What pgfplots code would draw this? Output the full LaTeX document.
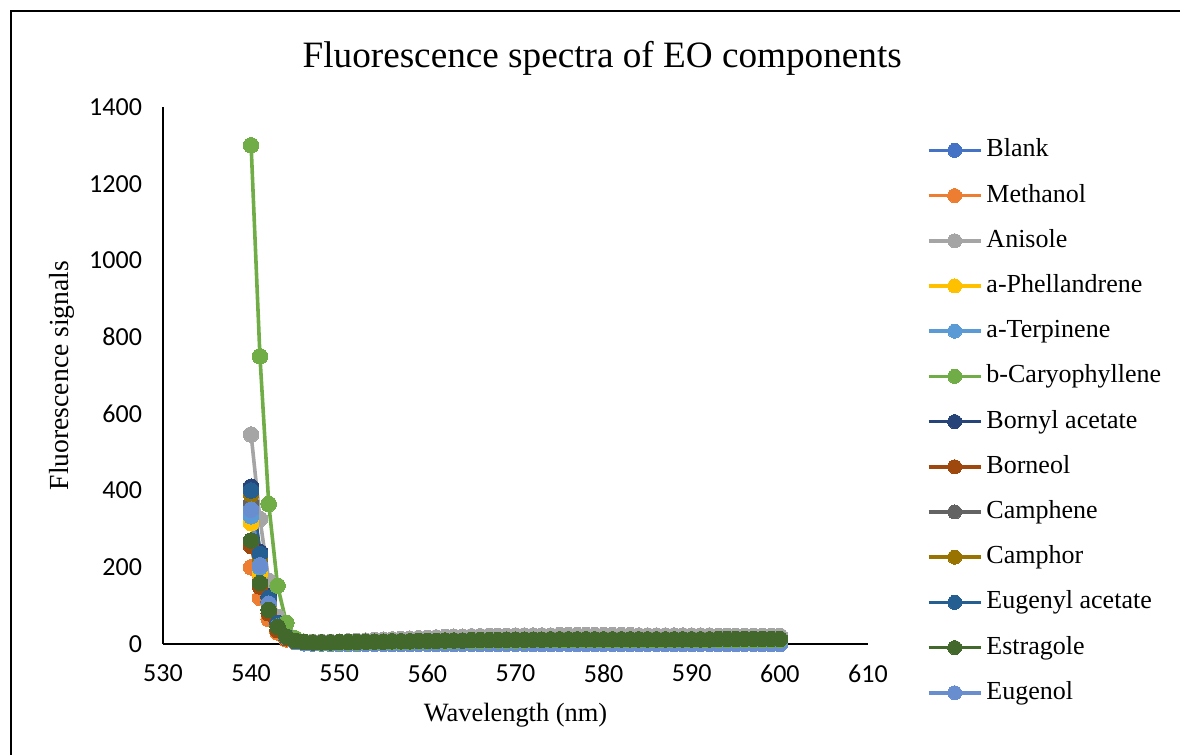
\documentclass[border=0pt]{standalone}
\usepackage{pgfplots}
\pgfplotsset{compat=1.18}
\usepackage{pgfplotstable}
\usepackage{fontspec}
\setmainfont{Liberation Serif}
\newfontfamily\calibri{Carlito}
\definecolor{cB}{HTML}{4472C4}
\definecolor{cM}{HTML}{ED7D31}
\definecolor{cA}{HTML}{A5A5A5}
\definecolor{cP}{HTML}{FFC000}
\definecolor{cT}{HTML}{5B9BD5}
\definecolor{cC}{HTML}{70AD47}
\definecolor{cBA}{HTML}{264478}
\definecolor{cBO}{HTML}{9E480E}
\definecolor{cCE}{HTML}{636363}
\definecolor{cCO}{HTML}{997300}
\definecolor{cEA}{HTML}{255E91}
\definecolor{cES}{HTML}{43682B}
\definecolor{cEU}{HTML}{698ED0}

\pgfplotstableread{
x B M A P T C BA BO CE CO EA ES EU
540 340 200 546 315 333 1300 410 255 365 390 400 270 350
541 195 120 326 185 200 750 240 150 215 225 235 159 205
542 100 65 165 100 110 365 125 80 110 118 120 89 105
543 45 30 70 45 48 152 55 36 50 52 54 45 46
544 18 12 28 18 18 55 22 15 20 20 21 19 18
545 6 5 12 7 6 15 8 6 8 8 8 8 6
546 2 3 6 3 2 6 3 3 4 3 3 5 2
547 1 2 5 2 1 4 2 2 3 2 2 4 1
548 1 2 5 2 1 3 2 2 3 2 2 4 1
549 0 2 5 2 0 3 2 2 3 2 2 4 0
550 0 2 6 2 0 4 2 2 3 2 2 5 0
551 0 2 7 2 0 4 2 2 3 2 2 5 0
552 0 2 8 3 0 4 3 2 3 3 2 5 0
553 0 3 9 3 0 5 3 3 4 3 3 6 0
554 0 3 10 3 0 5 3 3 4 3 3 6 0
555 0 3 11 3 0 5 3 3 4 3 3 6 0
556 0 3 12 3 0 6 3 3 4 3 3 7 0
557 0 3 13 4 0 6 4 3 4 4 3 7 0
558 0 3 14 4 0 6 4 3 5 4 3 7 0
559 0 4 15 4 0 7 4 4 5 4 4 8 0
560 0 4 16 4 0 7 4 4 5 4 4 8 0
561 0 4 17 4 0 7 4 4 5 4 4 8 0
562 0 4 18 4 0 7 4 4 5 4 4 9 0
563 0 4 19 5 0 8 5 4 5 5 4 9 0
564 0 4 19 5 0 8 5 4 6 5 4 9 0
565 0 4 20 5 0 8 5 4 6 5 4 10 0
566 0 5 20 5 0 8 5 5 6 5 5 10 0
567 0 5 21 5 0 9 5 5 6 5 5 10 0
568 0 5 21 5 0 9 5 5 6 5 5 10 0
569 0 5 21 5 0 9 5 5 6 5 5 11 0
570 0 5 22 5 0 9 5 5 6 5 5 11 0
571 0 5 22 5 0 9 5 5 6 5 5 11 0
572 0 5 22 6 0 10 6 5 7 6 5 11 0
573 0 5 22 6 0 10 6 5 7 6 5 11 0
574 0 5 22 6 0 10 6 5 7 6 5 12 0
575 0 5 23 6 0 10 6 5 7 6 5 12 0
576 0 5 23 6 0 10 6 5 7 6 5 12 0
577 0 5 23 6 0 10 6 5 7 6 5 12 0
578 0 5 23 6 0 10 6 5 7 6 5 12 0
579 0 5 23 6 0 10 6 5 7 6 5 12 0
580 0 5 23 6 0 10 6 5 7 6 5 12 0
581 0 5 23 6 0 10 6 5 7 6 5 12 0
582 0 5 23 6 0 10 6 5 7 6 5 12 0
583 0 5 23 6 0 10 6 5 7 6 5 12 0
584 0 5 22 6 0 10 6 5 7 6 5 12 0
585 0 5 22 6 0 10 6 5 7 6 5 12 0
586 0 5 22 6 0 10 6 5 7 6 5 12 0
587 0 5 22 6 0 10 6 5 7 6 5 12 0
588 0 5 22 6 0 10 6 5 7 6 5 12 0
589 0 5 22 6 0 10 6 5 7 6 5 12 0
590 0 5 22 6 0 10 6 5 7 6 5 12 0
591 0 5 22 6 0 10 6 5 7 6 5 12 0
592 0 5 22 6 0 10 6 5 7 6 5 12 0
593 0 5 21 6 0 11 6 5 7 6 5 13 0
594 0 5 21 6 0 11 6 5 7 6 5 13 0
595 0 5 21 6 0 11 6 5 7 6 5 13 0
596 0 5 21 6 0 11 6 5 7 6 5 13 0
597 0 5 21 6 0 11 6 5 7 6 5 13 0
598 0 5 21 6 0 11 6 5 7 6 5 13 0
599 0 5 21 6 0 11 6 5 7 6 5 13 0
600 0 5 21 6 0 11 6 5 7 6 5 13 0
}\data

\pgfplotsset{
  ser/.style={color=#1, line width=1.8pt, mark=*, mark size=3.9pt,
    mark options={solid, fill=#1, draw=#1, line width=0pt}},
  leg/.style={color=#1, line width=1.8pt, mark=*, mark size=3.5pt,
    mark options={solid, fill=#1, draw=#1, line width=0pt}},
}

\begin{document}
\begin{tikzpicture}
\useasboundingbox (0,0) rectangle (590pt,377.5pt);
\draw[line width=1pt] (5.5pt,0pt) -- (5.5pt,372pt) -- (590pt,372pt);
\begin{axis}[
  at={(81.5pt,55.5pt)}, anchor=south west,
  scale only axis, width=352.5pt, height=268.5pt,
  xmin=530, xmax=610, ymin=0, ymax=1400,
  xtick={530,540,...,610}, ytick={0,200,...,1400},
  axis lines*=left,
  axis line style={line width=0.8pt, black},
  major tick length=0pt,
  clip=false,
  /pgf/number format/assume math mode=true,
  /pgf/number format/1000 sep={},
  ticklabel style={font=\calibri\fontsize{13}{13}\selectfont},
  xticklabel style={yshift=-7pt},
  yticklabel style={xshift=-7pt},
  title={Fluorescence spectra of EO components},
  title style={at={(axis description cs:0.623,1.069)}, anchor=center, font=\fontsize{18.6}{18.6}\selectfont},
  xlabel={Wavelength (nm)},
  ylabel={Fluorescence signals},
  xlabel style={at={(axis description cs:0.5,-0.132)}, anchor=center, font=\fontsize{13.2}{13.2}\selectfont},
  ylabel style={at={(axis description cs:-0.1433,0.5)}, anchor=center, font=\fontsize{13.8}{13.8}\selectfont},
  legend style={at={(axis description cs:1.083,0.947)}, anchor=north west, draw=none, fill=none,
    font=\fontsize{13}{13}\selectfont, row sep=8.1pt, inner sep=0pt,
    nodes={inner sep=1pt, text height=9.5pt, text depth=3pt},
    /tikz/every odd column/.append style={column sep=1pt}},
  legend cell align=left,
  legend image code/.code={\draw[mark repeat=2,mark phase=2,#1] plot coordinates {(0pt,0pt) (13pt,0pt) (26pt,0pt)};},
]
\addplot[ser=cA, forget plot] table[x=x,y=A] {\data};
\addplot[ser=cB, forget plot] table[x=x,y=B] {\data};
\addplot[ser=cM, forget plot] table[x=x,y=M] {\data};
\addplot[ser=cP, forget plot] table[x=x,y=P] {\data};
\addplot[ser=cT, forget plot] table[x=x,y=T] {\data};
\addplot[ser=cBA, forget plot] table[x=x,y=BA] {\data};
\addplot[ser=cBO, forget plot] table[x=x,y=BO] {\data};
\addplot[ser=cCE, forget plot] table[x=x,y=CE] {\data};
\addplot[ser=cCO, forget plot] table[x=x,y=CO] {\data};
\addplot[ser=cEA, forget plot] table[x=x,y=EA] {\data};
\addplot[ser=cEU, forget plot] table[x=x,y=EU] {\data};
\addplot[ser=cC, forget plot] table[x=x,y=C] {\data};
\addplot[ser=cES, forget plot] table[x=x,y=ES] {\data};
\addlegendimage{leg=cB}\addlegendentry{Blank}
\addlegendimage{leg=cM}\addlegendentry{Methanol}
\addlegendimage{leg=cA}\addlegendentry{Anisole}
\addlegendimage{leg=cP}\addlegendentry{a-Phellandrene}
\addlegendimage{leg=cT}\addlegendentry{a-Terpinene}
\addlegendimage{leg=cC}\addlegendentry{b-Caryophyllene}
\addlegendimage{leg=cBA}\addlegendentry{Bornyl acetate}
\addlegendimage{leg=cBO}\addlegendentry{Borneol}
\addlegendimage{leg=cCE}\addlegendentry{Camphene}
\addlegendimage{leg=cCO}\addlegendentry{Camphor}
\addlegendimage{leg=cEA}\addlegendentry{Eugenyl acetate}
\addlegendimage{leg=cES}\addlegendentry{Estragole}
\addlegendimage{leg=cEU}\addlegendentry{Eugenol}
\end{axis}
\end{tikzpicture}
\end{document}
